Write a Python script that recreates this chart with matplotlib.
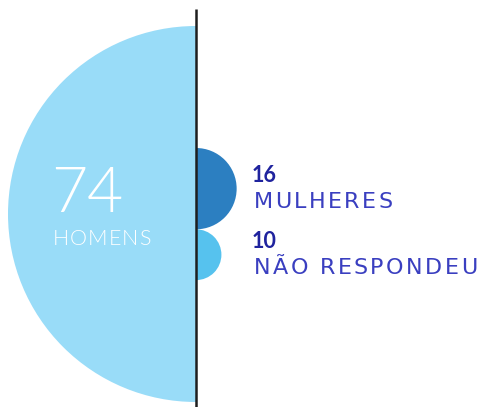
import matplotlib.pyplot as plt
from matplotlib.patches import Wedge

# respostas sobre gênero
valores = [74, 16, 10]
rotulos = ["HOMENS", "MULHERES", "NÃO RESPONDEU"]
cores = ["#99dcf8", "#2c7fc1", "#56c2ee"]

escala = 188 / valores[0]  # raio em px por resposta
eixo_x = 196

fig = plt.figure(figsize=(4.83, 4.07), dpi=100)
ax = fig.add_axes([0, 0, 1, 1])
ax.set_xlim(0, 483)
ax.set_ylim(407, 0)
ax.set_aspect("equal")
ax.axis("off")
renderer = fig.canvas.get_renderer()


def texto_espacado(x, y, s, espaco, **kw):
    # escreve letra por letra, somando um espaçamento extra entre elas
    pos = x
    for i, c in enumerate(s):
        ax.text(pos, y, c, ha="left", va="center", **kw)
        prefixo = ax.text(0, 0, s[:i + 1], **kw)
        largura = prefixo.get_window_extent(renderer).width
        prefixo.remove()
        pos = x + largura + espaco * (i + 1)


# meio círculo grande à esquerda
r0 = valores[0] * escala
ax.add_patch(Wedge((eixo_x, 214), r0, 90, 270, color=cores[0], lw=0))
texto_espacado(51, 194, str(valores[0]), 0, color="white", fontsize=45,
               family="Lato", weight=300)
texto_espacado(53, 239, rotulos[0], 1.0, color="white", fontsize=15.5,
               family="Lato", weight=300)

# meios círculos menores empilhados à direita
topo = 148
for v, rot, cor in zip(valores[1:], rotulos[1:], cores[1:]):
    r = v * escala
    cy = topo + r
    ax.add_patch(Wedge((eixo_x, cy), r, -90, 90, color=cor, lw=0))
    ax.text(252, cy - 13.5, str(v), color="#1f239e", fontsize=15.5,
            family="Lato", weight="bold", va="center", ha="left")
    texto_espacado(254, cy + 13.5, rot, 2.4, color="#3a3fc0", fontsize=16,
                   family="DejaVu Sans", weight="normal")
    topo += 2 * r

ax.plot([eixo_x, eixo_x], [9, 407], color="#1e1e1e", lw=1.8, solid_capstyle="butt")

fig.savefig("out.png", dpi=100)
